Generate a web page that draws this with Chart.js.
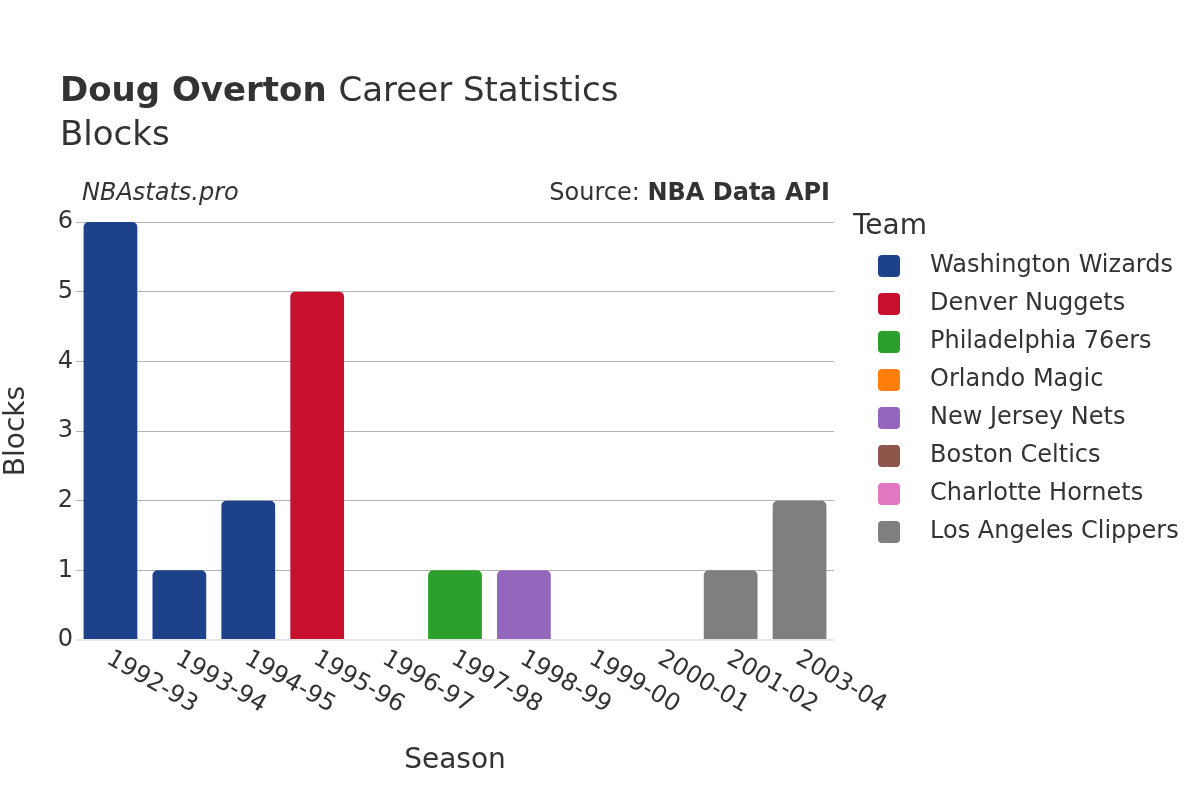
<!DOCTYPE html>
<html>
<head>
<meta charset="utf-8">
<script src="https://cdn.jsdelivr.net/npm/chart.js@4.4.1/dist/chart.umd.min.js"></script>
<style>
  html, body { margin: 0; padding: 0; background: #fff; }
  #wrap { width: 1200px; height: 800px; }
</style>
</head>
<body>
<div id="wrap"><canvas id="blocksChart" width="1200" height="800"></canvas></div>
<script>
// Season data
const seasons = ['1992-93', '1993-94', '1994-95', '1995-96', '1996-97', '1997-98',
                 '1998-99', '1999-00', '2000-01', '2001-02', '2003-04'];
const blocks = [6, 1, 2, 5, 0, 1, 1, 0, 0, 1, 2];
const seasonTeam = ['Washington Wizards', 'Washington Wizards', 'Washington Wizards', 'Denver Nuggets',
                    'Orlando Magic', 'Philadelphia 76ers', 'New Jersey Nets', 'Boston Celtics',
                    'Charlotte Hornets', 'Los Angeles Clippers', 'Los Angeles Clippers'];

// Legend order and team colours
const teams = ['Washington Wizards', 'Denver Nuggets', 'Philadelphia 76ers', 'Orlando Magic',
               'New Jersey Nets', 'Boston Celtics', 'Charlotte Hornets', 'Los Angeles Clippers'];
const teamColors = ['#1d428a', '#c8102e', '#2ca02c', '#ff7f0e',
                    '#9467bd', '#8c564b', '#e377c2', '#7f7f7f'];
const yTicks = [0, 1, 2, 3, 4, 5, 6];

const FONT = '"DejaVu Sans", Verdana, sans-serif';
const TEXT = '#333333';

function colorFor(team) {
    return teamColors[teams.indexOf(team)];
}

// Draws titles, credits, rotated season labels and the team legend
const decorations = {
    id: 'decorations',
    afterDraw(chart) {
        const ctx = chart.ctx;
        const area = chart.chartArea;
        const xScale = chart.scales.x;
        ctx.save();
        ctx.fillStyle = TEXT;
        ctx.textBaseline = 'alphabetic';

        // Title
        ctx.textAlign = 'left';
        ctx.font = 'bold 34px ' + FONT;
        ctx.fillText('Doug Overton', 60, 101);
        const w = ctx.measureText('Doug Overton ').width;
        ctx.font = '34px ' + FONT;
        ctx.fillText('Career Statistics', 60 + w, 101);
        ctx.fillText('Blocks', 60, 145);

        // Credits
        ctx.font = 'italic 24px ' + FONT;
        ctx.fillText('NBAstats.pro', 82, 200);
        ctx.textAlign = 'right';
        ctx.font = 'bold 24px ' + FONT;
        const src = 'NBA Data API';
        ctx.fillText(src, 830, 200);
        const sw = ctx.measureText(src).width;
        ctx.font = '24px ' + FONT;
        ctx.fillText('Source: ', 830 - sw, 200);

        // Rotated season labels
        ctx.font = '24px ' + FONT;
        ctx.textAlign = 'left';
        ctx.textBaseline = 'middle';
        seasons.forEach((s, i) => {
            const x = xScale.getPixelForTick(i);
            ctx.save();
            ctx.translate(x - 2, area.bottom + 17);
            ctx.rotate(Math.PI / 6);
            ctx.fillText(s, 0, 0);
            ctx.restore();
        });

        // Legend
        ctx.textBaseline = 'middle';
        ctx.font = '28px ' + FONT;
        ctx.fillText('Team', 853, 227);
        ctx.font = '24px ' + FONT;
        teams.forEach((t, i) => {
            const y = 266 + i * 38;
            ctx.fillStyle = teamColors[i];
            ctx.beginPath();
            ctx.roundRect(878, y - 11, 22, 22, 4);
            ctx.fill();
            ctx.fillStyle = TEXT;
            ctx.fillText(t, 930, y);
        });
        ctx.restore();
    }
};

const ctx = document.getElementById('blocksChart');
new Chart(ctx, {
    type: 'bar',
    data: {
        labels: seasons,
        datasets: [{
            label: 'Blocks',
            data: blocks,
            backgroundColor: seasonTeam.map(colorFor),
            borderRadius: { topLeft: 5, topRight: 5 },
            borderSkipped: 'bottom',
            barPercentage: 0.78,
            categoryPercentage: 1.0
        }]
    },
    options: {
        responsive: false,
        animation: false,
        layout: { padding: { top: 222, right: 366, bottom: 0, left: 0 } },
        plugins: {
            legend: { display: false },
            tooltip: { enabled: false }
        },
        scales: {
            x: {
                grid: { display: false },
                border: { display: false },
                ticks: { display: false },
                title: {
                    display: true,
                    text: 'Season',
                    color: TEXT,
                    font: { family: FONT, size: 28 },
                    padding: { top: 0, bottom: 22 }
                },
                afterFit(axis) { axis.height = 160; }
            },
            y: {
                min: 0,
                max: 6,
                afterBuildTicks(axis) { axis.ticks = yTicks.map(v => ({ value: v })); },
                grid: {
                    color: c => c.index === 0 ? '#e6e6e6' : '#b4b4b4',
                    lineWidth: c => c.index === 0 ? 2 : 1,
                    drawTicks: false
                },
                border: { display: false },
                ticks: {
                    color: TEXT,
                    font: { family: FONT, size: 24 },
                    padding: 3
                },
                title: {
                    display: true,
                    text: 'Blocks',
                    color: TEXT,
                    font: { family: FONT, size: 28 },
                    padding: { top: 0, bottom: 0 }
                },
                afterFit(axis) { axis.width = 76; }
            }
        }
    },
    plugins: [decorations]
});
</script>
</body>
</html>
